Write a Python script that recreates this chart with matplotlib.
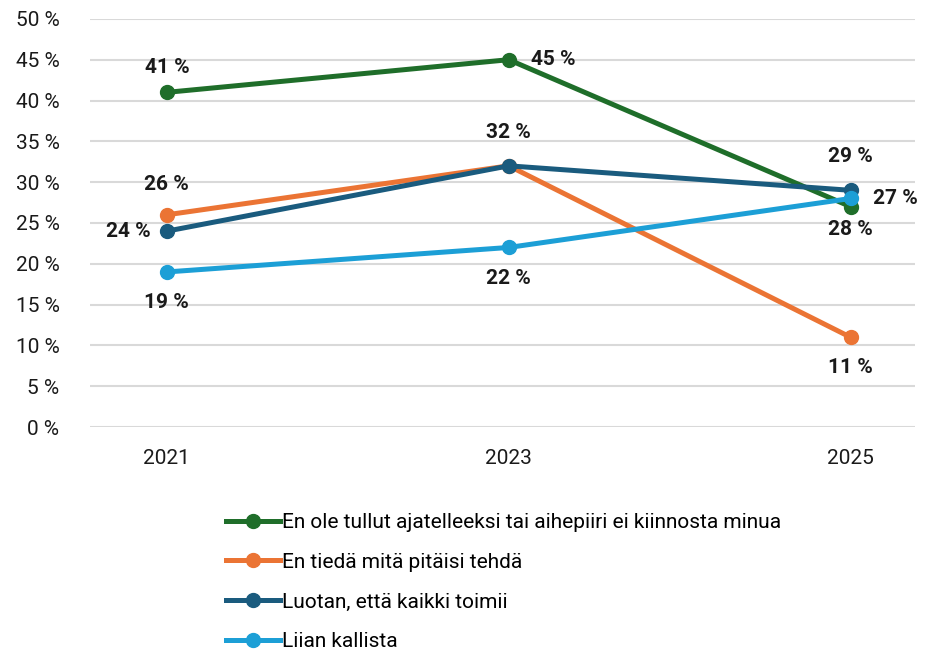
import matplotlib
matplotlib.use("Agg")
import matplotlib.pyplot as plt
from matplotlib.lines import Line2D

plt.rcParams['font.family'] = ['Roboto', 'DejaVu Sans']

years = ['2021', '2023', '2025']
series_names = [
    'En ole tullut ajatelleeksi tai aihepiiri ei kiinnosta minua',
    'En tiedä mitä pitäisi tehdä',
    'Luotan, että kaikki toimii',
    'Liian kallista',
]
ei_ajatellut = [41, 45, 27]
ei_tieda = [26, 32, 11]
luotan = [24, 32, 29]
kallista = [19, 22, 28]
colors = ['#1f6e2a', '#eb7434', '#1a5b7e', '#1c9fd6']

# label offsets (points) per series and year; None = no label
offsets = [
    [(0, 18), (32, 0), (32, 6)],
    [(0, 22), None, (0, -22)],
    [(-28, 0), (0, 24), (0, 24)],
    [(0, -22), (0, -22), (0, -22)],
]

fig = plt.figure(figsize=(9.37, 6.51), dpi=100)
ax = fig.add_axes([0.096, 0.344, 0.880, 0.627])

x = list(range(len(years)))
all_series = [ei_ajatellut, ei_tieda, luotan, kallista]
for vals, col, name in zip(all_series, colors, series_names):
    ax.plot(x, vals, color=col, lw=3.6, marker='o', ms=10, label=name, zorder=3)

for vals, col, offs in zip(all_series, colors, offsets):
    for xi, v, off in zip(x, vals, offs):
        if off is None:
            continue
        ax.annotate(f'{v} %', (xi, v), xytext=off, textcoords='offset points',
                    ha='center', va='center', fontsize=15, fontweight='bold',
                    color='#1a1a1a', zorder=5)

ax.set_ylim(0, 50)
ax.set_yticks(range(0, 51, 5))
ax.set_yticklabels([f'{t} %' for t in range(0, 51, 5)])
ax.set_xlim(-0.225, 2.187)
ax.set_xticks(x)
ax.set_xticklabels(years)
ax.grid(axis='y', color='#d9d9d9', lw=1.5)
ax.set_axisbelow(True)
for s in ax.spines.values():
    s.set_visible(False)
ax.tick_params(length=0, labelsize=15, colors='#1a1a1a')
ax.tick_params(axis='x', pad=16)
ax.tick_params(axis='y', pad=22)

handles = [Line2D([0], [0], color=c, lw=3.6, marker='o', ms=10) for c in colors]
fig.legend(handles, series_names, loc='upper left', bbox_to_anchor=(0.232, 0.225),
           frameon=False, fontsize=15, handlelength=2.6, handletextpad=0.1,
           labelspacing=1.0, borderaxespad=0)

fig.savefig('out.png', dpi=100)
